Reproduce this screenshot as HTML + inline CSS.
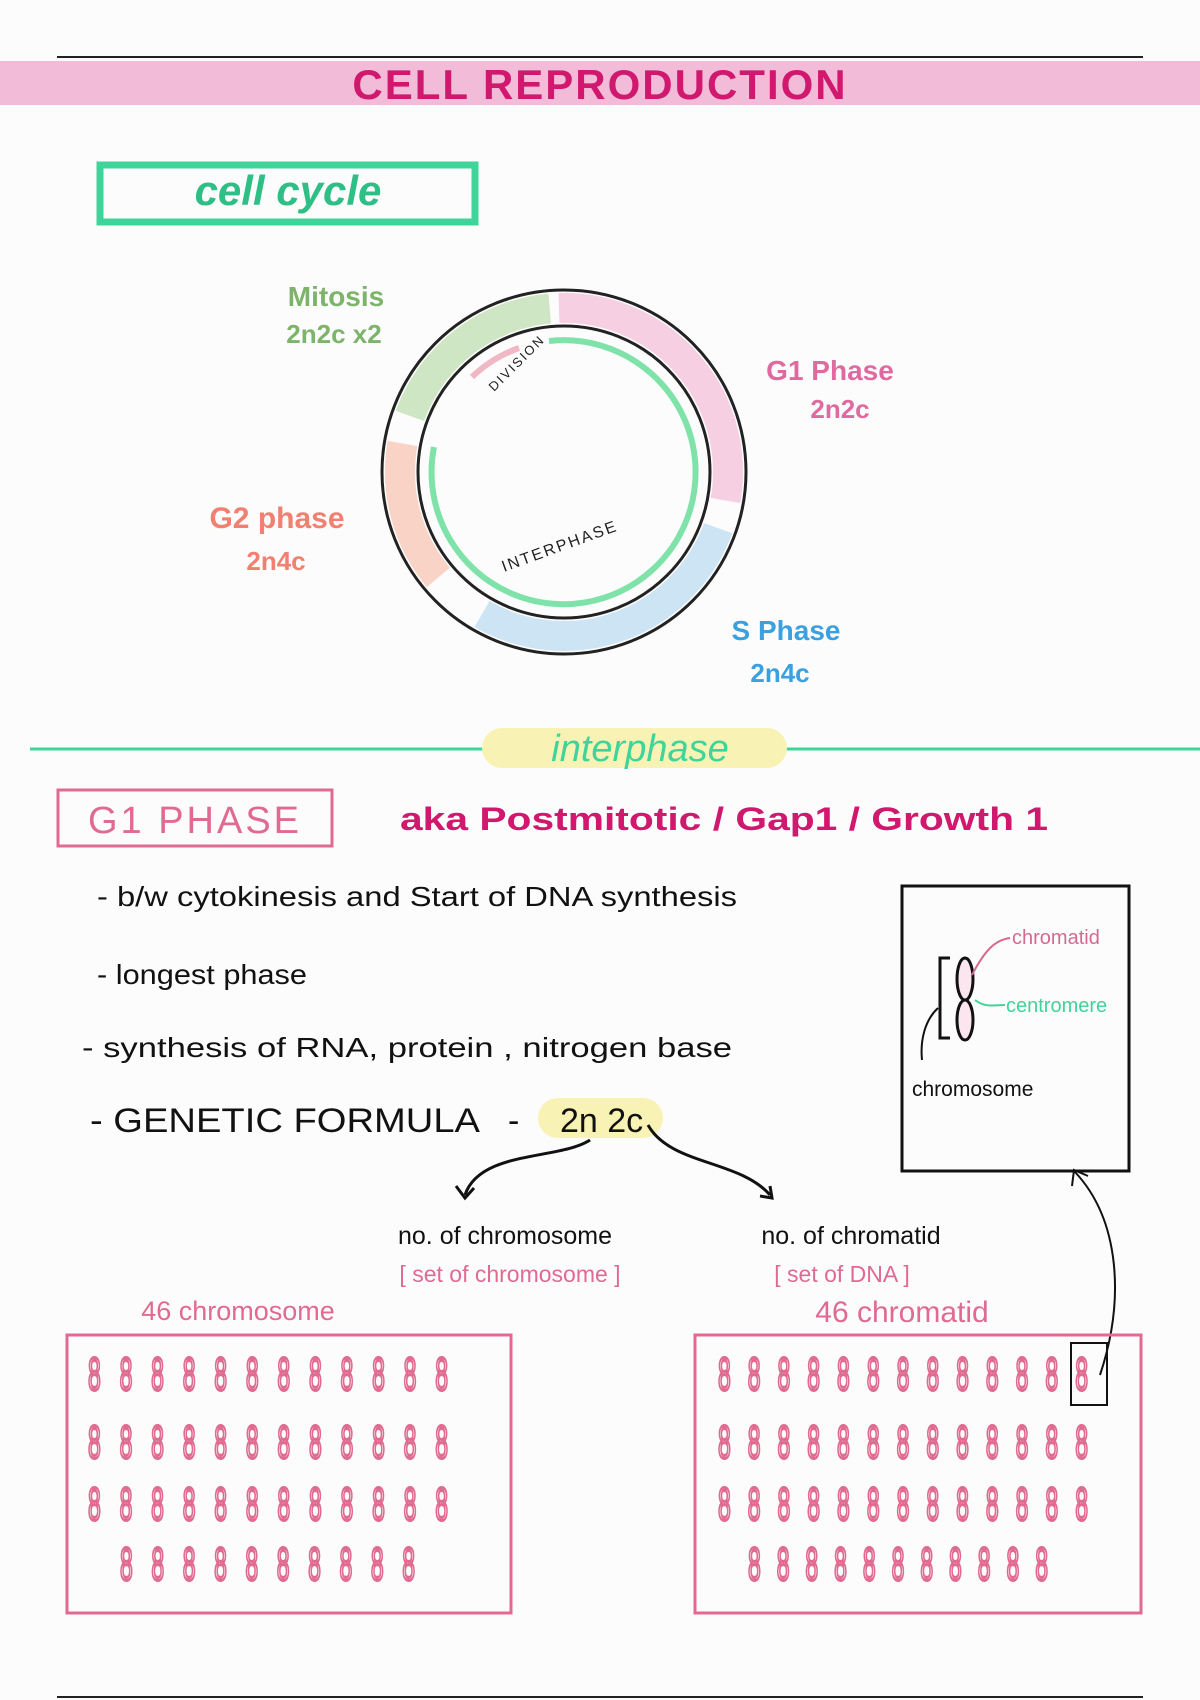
<!DOCTYPE html>
<html><head><meta charset="utf-8">
<style>
html,body{margin:0;padding:0;background:#fcfcfc;}
svg{display:block;}
text{font-family:"Liberation Sans",sans-serif;}
</style></head>
<body>
<svg width="1200" height="1700" viewBox="0 0 1200 1700" xmlns="http://www.w3.org/2000/svg">
<rect width="1200" height="1700" fill="#fcfcfc"/>
<!-- header -->
<line x1="57" y1="57" x2="1143" y2="57" stroke="#222" stroke-width="2"/>
<rect x="0" y="61" width="1200" height="44" fill="#f2bcd8"/>
<text x="600" y="99" text-anchor="middle" font-size="42" font-weight="bold" fill="#d0186e" letter-spacing="2">CELL  REPRODUCTION</text>
<!-- cell cycle box -->
<rect x="100" y="165" width="375" height="57" fill="none" stroke="#3fd49a" stroke-width="7"/>
<line x1="104" y1="224" x2="478" y2="224" stroke="#3fd49a" stroke-width="3"/>
<text x="288" y="205" text-anchor="middle" font-family="Liberation Serif" font-style="italic" font-weight="bold" font-size="42" fill="#2fbf86">cell cycle</text>
<!-- circle -->
<g transform="translate(564,472)">
<circle r="182" fill="none" stroke="#222" stroke-width="3"/>
<circle r="146" fill="none" stroke="#222" stroke-width="3"/>
<path d="M -154.1 -56.1 A 164 164 0 0 1 -14.3 -163.4" fill="none" stroke="#cfe6c4" stroke-width="30"/>
<path d="M -5 -164 A 164 164 0 0 1 161.5 28.5" fill="none" stroke="#f6cfe2" stroke-width="30"/>
<path d="M 154.1 56.1 A 164 164 0 0 1 -82 142" fill="none" stroke="#cde4f5" stroke-width="30"/>
<path d="M -125.6 105.4 A 164 164 0 0 1 -161.5 -28.5" fill="none" stroke="#f8d3c6" stroke-width="30"/>
<path d="M -92 -95 A 132 132 0 0 1 -45 -124" fill="none" stroke="#f0b8c4" stroke-width="6"/>
<path d="M -15 -131 A 132 132 0 1 1 -130 -25" fill="none" stroke="#7fe3a9" stroke-width="6"/>
<text x="-70" y="-80" font-size="13" fill="#222" transform="rotate(-45 -70 -80)" letter-spacing="2">DIVISION</text>
<text x="-60" y="100" font-size="16" fill="#222" transform="rotate(-20 -60 100)" letter-spacing="2">INTERPHASE</text>
</g>
<text x="336" y="306" text-anchor="middle" font-size="28" font-weight="bold" fill="#7cb46a">Mitosis</text>
<text x="334" y="343" text-anchor="middle" font-size="26" font-weight="bold" fill="#7cb46a">2n2c x2</text>
<text x="830" y="380" text-anchor="middle" font-size="28" font-weight="bold" fill="#e06aa0">G1 Phase</text>
<text x="840" y="418" text-anchor="middle" font-size="26" font-weight="bold" fill="#e06aa0">2n2c</text>
<text x="277" y="528" text-anchor="middle" font-size="30" font-weight="bold" fill="#f08070">G2 phase</text>
<text x="276" y="570" text-anchor="middle" font-size="26" font-weight="bold" fill="#f08070">2n4c</text>
<text x="786" y="640" text-anchor="middle" font-size="28" font-weight="bold" fill="#3aa0e0">S Phase</text>
<text x="780" y="682" text-anchor="middle" font-size="26" font-weight="bold" fill="#3aa0e0">2n4c</text>
<!-- interphase -->
<line x1="30" y1="749" x2="1200" y2="749" stroke="#3fd49a" stroke-width="3"/>
<rect x="482" y="728" width="305" height="40" rx="20" fill="#f8f3b4"/>
<text x="640" y="761" text-anchor="middle" font-family="Liberation Serif" font-style="italic" font-size="38" fill="#3fd49a">interphase</text>
<!-- G1 phase -->
<rect x="58" y="790" width="274" height="56" fill="none" stroke="#e06a90" stroke-width="3"/>
<text x="195" y="833" text-anchor="middle" font-size="38" fill="#e06a90" letter-spacing="3">G1  PHASE</text>
<text x="400" y="830" font-size="32" font-weight="bold" fill="#d0186e" textLength="648" lengthAdjust="spacingAndGlyphs">aka   Postmitotic  /  Gap1  /  Growth 1</text>
<text x="97" y="906" font-size="28" fill="#111" textLength="640" lengthAdjust="spacingAndGlyphs">- b/w  cytokinesis  and  Start of DNA  synthesis</text>
<text x="97" y="984" font-size="28" fill="#111" textLength="210" lengthAdjust="spacingAndGlyphs">- longest  phase</text>
<text x="82" y="1057" font-size="28" fill="#111" textLength="650" lengthAdjust="spacingAndGlyphs">- synthesis  of RNA, protein ,  nitrogen  base</text>
<rect x="538" y="1098" width="125" height="40" rx="20" fill="#f8f3b4"/>
<text x="90" y="1132" font-size="34" fill="#111" textLength="390" lengthAdjust="spacingAndGlyphs">-  GENETIC  FORMULA</text>
<text x="508" y="1132" font-size="34" fill="#111">-</text>
<text x="560" y="1132" font-size="34" fill="#111">2n 2c</text>
<!-- arrows -->
<path d="M590 1140 C 560 1160, 480 1150, 465 1195" fill="none" stroke="#111" stroke-width="3"/>
<path d="M456 1186 L465 1198 L474 1188" fill="none" stroke="#111" stroke-width="3"/>
<path d="M648 1125 C 670 1165, 740 1160, 770 1195" fill="none" stroke="#111" stroke-width="3"/>
<path d="M760 1196 L772 1198 L770 1186" fill="none" stroke="#111" stroke-width="3"/>
<text x="505" y="1244" text-anchor="middle" font-size="25" fill="#111">no. of chromosome</text>
<text x="510" y="1282" text-anchor="middle" font-size="23" fill="#e06a90">[ set of chromosome ]</text>
<text x="851" y="1244" text-anchor="middle" font-size="25" fill="#111">no. of chromatid</text>
<text x="842" y="1282" text-anchor="middle" font-size="23" fill="#e06a90">[ set of DNA ]</text>
<text x="238" y="1320" text-anchor="middle" font-size="27" fill="#e06a90">46 chromosome</text>
<text x="902" y="1322" text-anchor="middle" font-size="30" fill="#e06a90">46 chromatid</text>
<!-- right inset box -->
<rect x="902" y="886" width="227" height="285" fill="none" stroke="#111" stroke-width="3"/>
<path d="M950 958 L940 958 L940 1038 L950 1038" fill="none" stroke="#111" stroke-width="3"/>
<ellipse cx="965" cy="979" rx="8" ry="21" fill="#fbe6ef" stroke="#111" stroke-width="3"/>
<ellipse cx="965" cy="1020" rx="8" ry="20" fill="#fbe6ef" stroke="#111" stroke-width="3"/>
<path d="M972 975 C 985 950, 995 940, 1010 938" fill="none" stroke="#d46a90" stroke-width="2"/>
<text x="1012" y="944" font-size="20" fill="#d46a90">chromatid</text>
<path d="M975 1000 C 985 1008, 995 1005, 1005 1005" fill="none" stroke="#3fd49a" stroke-width="2"/>
<text x="1006" y="1012" font-size="20" fill="#3fd49a">centromere</text>
<path d="M938 1008 C 925 1020, 920 1040, 922 1060" fill="none" stroke="#111" stroke-width="2"/>
<text x="912" y="1096" font-size="21" fill="#111">chromosome</text>
<path d="M1100 1375 C 1125 1300, 1120 1220, 1075 1172" fill="none" stroke="#111" stroke-width="2"/>
<path d="M1072 1186 L1074 1170 L1088 1176" fill="none" stroke="#111" stroke-width="2"/>
<!-- chromosome boxes -->
<rect x="67" y="1335" width="444" height="278" fill="none" stroke="#e06a90" stroke-width="3"/>
<rect x="695" y="1335" width="446" height="278" fill="none" stroke="#e06a90" stroke-width="3"/>
<rect x="1071" y="1343" width="36" height="62" fill="none" stroke="#111" stroke-width="2"/>
<g font-size="46" fill="none" stroke="#e06a90" stroke-width="3">
<g transform="translate(88,0) scale(0.5,1)">
<text x="0" y="1390" textLength="720" lengthAdjust="spacing">888888888888</text>
<text x="0" y="1458" textLength="720" lengthAdjust="spacing">888888888888</text>
<text x="0" y="1520" textLength="720" lengthAdjust="spacing">888888888888</text>
<text x="64" y="1580" textLength="590" lengthAdjust="spacing">8888888888</text>
</g>
<g transform="translate(718,0) scale(0.5,1)">
<text x="0" y="1390" textLength="740" lengthAdjust="spacing">8888888888888</text>
<text x="0" y="1458" textLength="740" lengthAdjust="spacing">8888888888888</text>
<text x="0" y="1520" textLength="740" lengthAdjust="spacing">8888888888888</text>
<text x="60" y="1580" textLength="600" lengthAdjust="spacing">88888888888</text>
</g>
</g>
<line x1="57" y1="1697" x2="1143" y2="1697" stroke="#222" stroke-width="2"/>
</svg>
</body></html>
